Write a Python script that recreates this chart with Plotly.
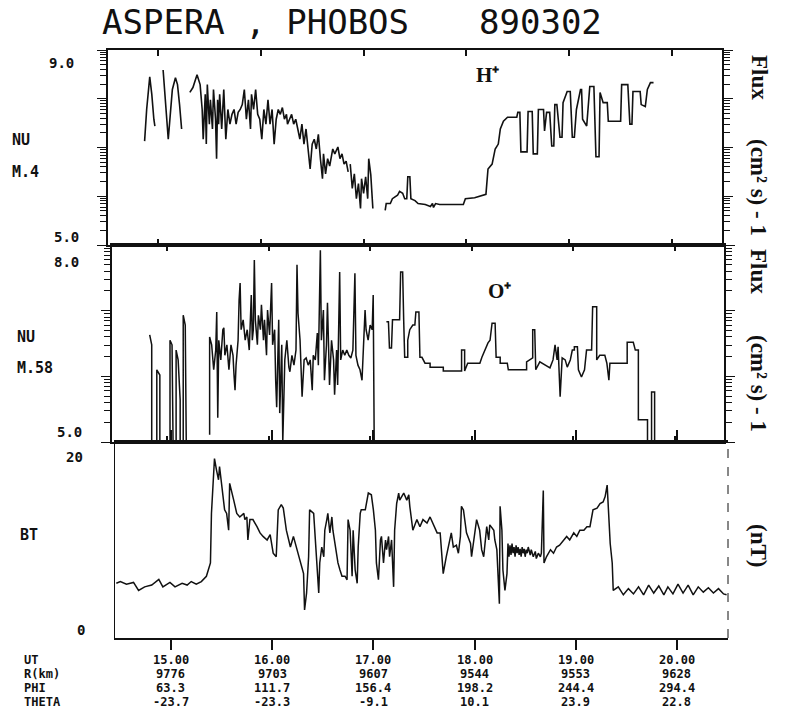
import numpy as np
import plotly.graph_objects as go

# ---------------------------------------------------------------------------
# ASPERA / PHOBOS, 1989-03-02: H+ and O+ number flux (log10) and |B|
# Time in decimal hours UT; None separates data gaps.
# ---------------------------------------------------------------------------

hp_t = [14.87, 14.89, 14.92, 14.94, 14.96, 14.97, None,
        15.05, 15.07, 15.09, 15.10, 15.12, 15.14, 15.17, 15.19, 15.21, 15.23, None,
        15.31, 15.34, 15.38, 15.41, 15.43, 15.44, 15.46, 15.47, 15.48, 15.50, 15.51,
        15.53, 15.54, 15.56, 15.57, 15.58, 15.59, 15.60, 15.62, 15.64, 15.66, 15.68,
        15.70, 15.72, 15.74, 15.76, 15.78, 15.80, 15.82, 15.84, 15.86, 15.88, 15.90,
        15.91, 15.93, 15.95, 15.97, 15.99, 16.01, 16.03, 16.05, 16.07, 16.09, 16.11,
        16.13, 16.15, 16.17, 16.19, 16.21, 16.23, 16.25, 16.26, 16.28, 16.30, 16.32,
        16.34, 16.36, 16.38, 16.40, 16.42, 16.44, 16.46, 16.48, 16.50, 16.52, 16.54,
        16.56, 16.58, 16.60, 16.61, 16.63, 16.65, 16.67, 16.70, 16.72, 16.75, 16.77,
        16.79, 16.81, 16.83, 16.85, None,
        16.87, 16.89, 16.91, 16.93, 16.95, 16.97, 16.98, 17.00, 17.02, 17.04, 17.05,
        17.07, 17.09, None,
        17.21, 17.22, 17.26, 17.28, 17.33, 17.35, 17.38, 17.40, 17.42, 17.43, 17.45,
        17.46, 17.50, 17.53, 17.60, 17.65, 17.67, 17.68, 17.70, 17.74, 17.97, 17.99,
        18.08, 18.16, 18.19, 18.21, 18.25, 18.28, 18.31, 18.33, 18.36, 18.40, 18.49,
        18.50, 18.52, 18.53, 18.59, 18.60, 18.64, 18.65, 18.69, 18.70, 18.75, 18.76,
        18.78, 18.81, 18.83, 18.85, 18.86, 18.88, 18.91, 18.93, 18.94, 18.98, 19.01,
        19.03, 19.05, 19.07, 19.11, 19.12, 19.13, 19.17, 19.20, 19.24, 19.26, 19.29,
        19.30, 19.33, 19.37, 19.38, 19.50, 19.51, 19.57, 19.59, 19.61, 19.62, 19.69,
        19.70, 19.74, 19.76, 19.79, 19.82]
hp_v = [7.13, 7.78, 8.45, 8.09, 7.58, 7.44, None,
        8.59, 8.09, 7.58, 7.17, 7.68, 8.19, 8.43, 8.29, 7.88, 7.38, None,
        8.13, 8.23, 8.49, 8.29, 7.78, 7.17, 8.09, 7.07, 8.29, 7.48, 7.98,
        7.38, 8.19, 7.58, 6.77, 7.98, 7.48, 8.09, 7.38, 8.19, 7.17, 7.78,
        7.48, 7.68, 7.78, 7.48, 7.72, 7.78, 7.88, 8.19, 7.58, 7.98, 7.38,
        8.09, 7.78, 8.19, 7.68, 7.58, 7.17, 7.78, 7.48, 7.98, 7.48, 7.78,
        7.07, 7.58, 7.78, 7.68, 7.82, 7.58, 7.68, 7.48, 7.58, 7.68, 7.48,
        7.58, 7.38, 7.17, 7.48, 7.07, 7.38, 6.97, 6.56, 7.07, 7.17, 6.97,
        7.27, 6.77, 6.36, 6.87, 6.46, 6.77, 6.62, 6.97, 6.87, 7.01, 6.77,
        6.87, 6.66, 6.72, 6.50, None,
        6.66, 6.16, 6.46, 5.95, 6.26, 5.75, 6.36, 6.06, 6.40, 5.95, 6.77,
        6.44, 5.75, None,
        5.71, 5.85, 5.85, 5.95, 6.02, 6.10, 6.06, 5.95, 5.95, 6.40, 6.40,
        5.95, 5.91, 5.85, 5.83, 5.79, 5.85, 5.77, 5.85, 5.83, 5.83, 5.95,
        5.97, 6.02, 6.04, 6.56, 6.66, 6.97, 7.07, 7.38, 7.54, 7.62, 7.62,
        7.72, 7.72, 6.91, 6.91, 7.74, 7.74, 6.87, 6.87, 7.78, 7.78, 7.34,
        7.72, 7.72, 7.03, 7.03, 7.88, 7.88, 7.21, 7.21, 7.92, 8.15, 8.15,
        7.21, 7.21, 7.78, 8.19, 8.19, 7.58, 7.44, 8.25, 8.25, 6.81, 6.81,
        8.13, 7.92, 7.92, 7.54, 7.54, 8.29, 8.29, 7.48, 7.48, 8.15, 8.15,
        7.88, 7.84, 8.19, 8.33, 8.33]

op_t = [14.83, 14.85, 14.85, 14.90, 14.90, 14.93, 14.93, 15.03, 15.03, 15.05, 15.06,
        15.09, 15.09, 15.11, 15.13, 15.13, 15.16, 15.16, 15.18, 15.19, None,
        15.42, 15.42, 15.44, 15.46, 15.48, 15.49, 15.50, 15.51, 15.53, 15.55, 15.56,
        15.57, 15.59, 15.61, 15.63, 15.65, 15.66, 15.67, 15.68, 15.70, 15.71, 15.72,
        15.73, 15.75, 15.77, 15.79, 15.81, 15.82, 15.83, 15.84, 15.85, 15.86, 15.87,
        15.89, 15.90, 15.92, 15.93, 15.95, 15.96, 15.98, 15.99, 16.01, 16.03, 16.04,
        16.06, 16.07, 16.08, 16.10, 16.11, 16.13, 16.14, 16.16, 16.18, 16.20, 16.21,
        16.23, 16.25, 16.27, 16.28, 16.29, 16.31, 16.33, 16.35, 16.37, 16.39, 16.41,
        16.43, 16.44, 16.46, 16.48, 16.49, 16.51, 16.52, 16.54, 16.55, 16.57, 16.58,
        16.60, 16.62, 16.64, 16.65, 16.67, 16.68, 16.70, 16.71, 16.73, 16.75, 16.77,
        16.79, 16.81, 16.83, 16.85, 16.86, 16.88, 16.90, 16.92, 16.93, 16.95, 16.96,
        16.98, 17.00, 17.02, 17.03, 17.04, None,
        17.16, 17.18, 17.19, 17.21, 17.22, 17.29, 17.30, 17.32, 17.33, 17.34, 17.37,
        17.37, 17.39, 17.42, 17.44, 17.45, 17.48, 17.49, 17.51, 17.54, 17.59, 17.59,
        17.72, 17.72, 17.90, 17.90, 17.93, 17.93, 17.96, 18.08, 18.10, 18.13, 18.16,
        18.18, 18.20, 18.23, 18.24, 18.28, 18.28, 18.35, 18.36, 18.54, 18.54, 18.60,
        18.60, 18.62, 18.63, 18.67, 18.72, 18.77, 18.80, 18.82, 18.84, 18.85, 18.87,
        18.89, 18.92, 18.94, 18.97, 18.99, 19.01, 19.01, 19.04, 19.05, 19.08, 19.11,
        19.13, 19.18, 19.19, 19.23, 19.23, 19.26, 19.31, 19.33, 19.35, 19.36, 19.53,
        19.53, 19.59, 19.61, 19.64, 19.64, 19.73, 19.73, 19.77, 19.77, 19.80, 19.80]
op_v = [6.63, 6.48, 5.00, 5.00, 6.10, 6.02, 5.00, 5.00, 6.55, 6.48, 5.00,
        5.00, 6.40, 6.25, 5.64, 5.00, 5.00, 6.93, 6.78, 5.00, None,
        5.11, 6.60, 6.48, 6.10, 6.40, 6.98, 5.37, 6.55, 6.25, 6.71, 6.74,
        6.32, 6.48, 6.10, 6.48, 6.32, 6.02, 5.79, 6.17, 6.55, 7.16, 7.42,
        6.71, 6.86, 6.55, 6.71, 6.40, 7.01, 7.24, 6.55, 6.71, 7.77, 6.86,
        6.48, 6.93, 6.71, 7.09, 6.55, 6.86, 6.32, 7.01, 6.63, 7.42, 6.48,
        6.71, 5.94, 5.53, 6.86, 5.44, 6.48, 5.00, 6.25, 6.55, 6.14, 6.07,
        6.32, 6.17, 6.40, 7.70, 6.96, 6.55, 5.69, 6.25, 6.28, 6.17, 6.25,
        5.79, 6.32, 6.25, 6.66, 6.17, 7.92, 6.55, 7.01, 5.94, 6.48, 7.12,
        5.87, 6.55, 6.25, 5.72, 6.40, 5.87, 7.59, 6.25, 6.40, 6.32, 6.40,
        6.32, 6.28, 6.40, 7.57, 6.32, 6.17, 6.10, 5.94, 6.32, 7.01, 6.71,
        6.55, 6.78, 6.71, 7.24, 5.00, None,
        6.83, 6.83, 6.43, 6.43, 6.86, 6.86, 7.59, 7.59, 6.86, 6.29, 6.29,
        6.55, 6.71, 6.78, 6.78, 6.98, 6.98, 6.29, 6.29, 6.20, 6.20, 6.14,
        6.14, 6.08, 6.08, 6.40, 6.40, 6.08, 6.20, 6.20, 6.29, 6.40, 6.51,
        6.55, 6.81, 6.81, 6.29, 6.29, 6.20, 6.20, 6.10, 6.10, 6.22, 6.28,
        6.71, 6.71, 6.10, 6.22, 6.17, 6.13, 6.25, 6.48, 6.25, 6.45, 5.69,
        6.28, 6.25, 6.14, 6.25, 6.40, 6.40, 6.45, 6.45, 6.10, 5.99, 6.10,
        6.40, 6.40, 7.06, 7.06, 6.25, 6.32, 6.32, 6.20, 5.94, 6.20, 6.20,
        6.52, 6.52, 6.40, 6.40, 5.34, 5.34, 5.00, 5.00, 5.76, 5.76, 5.00]

bt_t = [14.46, 14.50, 14.56, 14.63, 14.68, 14.74, 14.81, 14.88, 14.92, 14.99, 15.04,
        15.11, 15.16, 15.20, 15.25, 15.30, 15.35, 15.39, 15.40, 15.43, 15.45, 15.47,
        15.48, 15.50, 15.52, 15.53, 15.55, 15.57, 15.58, 15.60, 15.62, 15.65, 15.68,
        15.72, 15.73, 15.75, 15.76, 15.78, 15.81, 15.85, 15.88, 15.91, 15.95, 15.98,
        16.01, 16.04, 16.06, 16.09, 16.11, 16.14, 16.18, 16.21, 16.24, 16.28, 16.31,
        16.32, 16.34, 16.36, 16.37, 16.41, 16.44, 16.46, 16.47, 16.49, 16.51, 16.52,
        16.54, 16.55, 16.57, 16.59, 16.60, 16.64, 16.65, 16.67, 16.69, 16.72, 16.74,
        16.75, 16.77, 16.79, 16.80, 16.82, 16.84, 16.85, 16.87, 16.88, 16.92, 16.95,
        16.98, 17.00, 17.02, 17.03, 17.05, 17.07, 17.08, 17.10, 17.12, 17.13, 17.15,
        17.16, 17.18, 17.20, 17.21, 17.23, 17.25, 17.26, 17.30, 17.33, 17.35, 17.36,
        17.39, 17.43, 17.46, 17.49, 17.53, 17.56, 17.59, 17.63, 17.66, 17.68, 17.69,
        17.72, 17.76, 17.77, 17.79, 17.82, 17.84, 17.86, 17.87, 17.89, 17.92, 17.96,
        17.97, 17.99, 18.02, 18.05, 18.07, 18.09, 18.12, 18.14, 18.15, 18.19, 18.20,
        18.22, 18.235, 18.245, 18.252, 18.27, 18.28, 18.30, 18.32, 18.33, 18.34, 18.35,
        18.36, 18.37, 18.38, 18.39, 18.40, 18.41, 18.42, 18.43, 18.44, 18.45, 18.46,
        18.47, 18.48, 18.49, 18.50, 18.51, 18.52, 18.53, 18.55, 18.56, 18.58, 18.60,
        18.61, 18.63, 18.65, 18.66, 18.679, 18.686, 18.71, 18.75, 18.78, 18.81, 18.84,
        18.88, 18.91, 18.94, 18.98, 19.01, 19.04, 19.08, 19.11, 19.14, 19.16, 19.17,
        19.21, 19.24, 19.27, 19.29, 19.31, 19.32, 19.34, 19.36, 19.37, 19.42, 19.47,
        19.52, 19.57, 19.62, 19.67, 19.72, 19.77, 19.82, 19.87, 19.91, 19.96, 20.01,
        20.06, 20.11, 20.16, 20.21, 20.26, 20.31, 20.36, 20.41, 20.46, 20.49]
bt_v = [5.5, 5.7, 5.4, 5.6, 4.7, 5.1, 5.3, 5.95, 5.1, 5.6, 5.1,
        5.5, 5.3, 5.7, 5.4, 5.7, 6.3, 7.8, 13.4, 19.6, 18.3, 17.2,
        18.7, 16.8, 15.3, 13.8, 13.4, 11.5, 16.8, 15.7, 14.9, 13.4, 13.0,
        13.4, 12.7, 13.0, 10.4, 12.7, 12.7, 11.9, 11.2, 10.8, 10.4, 11.0,
        8.9, 8.5, 13.8, 14.4, 14.0, 11.5, 9.6, 10.8, 9.6, 7.8, 6.6,
        2.5, 4.4, 8.5, 13.8, 13.4, 8.5, 4.4, 7.8, 9.6, 8.5, 11.5,
        12.7, 13.4, 11.2, 13.0, 11.5, 8.5, 7.8, 7.0, 6.3, 6.3, 5.9,
        12.7, 11.5, 6.3, 11.5, 7.0, 5.5, 9.6, 13.4, 13.8, 13.8, 15.7,
        15.5, 13.8, 11.5, 7.8, 5.9, 10.4, 10.8, 7.8, 10.4, 9.3, 10.8,
        8.5, 10.4, 5.1, 11.5, 14.5, 15.7, 14.9, 15.7, 14.9, 15.5, 14.2,
        11.5, 12.7, 11.9, 12.7, 12.3, 13.0, 12.3, 11.2, 11.2, 8.5, 6.6,
        8.5, 10.8, 11.2, 9.6, 9.8, 8.9, 10.8, 14.2, 13.8, 11.2, 10.0,
        8.5, 10.0, 12.7, 11.5, 9.3, 8.5, 11.9, 10.4, 12.1, 11.5, 10.4,
        9.3, 5.1, 3.2, 14.2, 11.5, 7.0, 4.7, 6.6, 10.0, 8.5, 9.8,
        8.7, 10.0, 8.9, 9.6, 8.5, 9.8, 8.9, 9.6, 8.7, 9.4, 8.5,
        9.6, 8.9, 9.4, 8.5, 9.3, 8.9, 9.6, 8.7, 9.3, 8.5, 9.1,
        8.3, 8.9, 8.5, 8.9, 16.0, 7.8, 8.5, 9.3, 8.9, 9.6, 9.8,
        10.4, 10.8, 10.4, 11.2, 10.8, 11.5, 11.5, 11.9, 11.9, 13.0, 13.8,
        14.0, 14.5, 14.7, 15.3, 16.6, 14.2, 10.0, 7.8, 4.7, 5.1, 4.2,
        4.9, 4.3, 5.1, 4.2, 5.3, 4.4, 5.2, 4.2, 5.1, 4.3, 5.4,
        4.4, 5.3, 4.2, 5.1, 4.5, 5.0, 4.4, 4.9, 4.3, 4.2]

# Orbit table printed under the time axis
ut_hours = [15, 16, 17, 18, 19, 20]
ut_text = ["15.00", "16.00", "17.00", "18.00", "19.00", "20.00"]
r_km = ["9776", "9703", "9607", "9544", "9553", "9628"]
phi = ["63.3", "111.7", "156.4", "198.2", "244.4", "294.4"]
theta = ["-23.7", "-23.3", "-9.1", "10.1", "23.9", "22.8"]
table_rows = [("UT", ut_text), ("R(km)", r_km), ("PHI", phi), ("THETA", theta)]

# ---------------------------------------------------------------------------
W, H = 788, 719
PLOTTER = "DejaVu Sans Mono"
SERIF = "Liberation Serif"
INK = "#111111"


def fx(p):
    return p / W


def fy(p):
    return 1 - p / H


def log_minor(lo, hi):
    return [d + np.log10(k) for d in range(lo, hi) for k in range(2, 10)]


fig = go.Figure()
fig.add_trace(go.Scatter(x=hp_t, y=hp_v, mode="lines", xaxis="x", yaxis="y",
                         line=dict(color=INK, width=1.6), connectgaps=False))
fig.add_trace(go.Scatter(x=op_t, y=op_v, mode="lines", xaxis="x2", yaxis="y2",
                         line=dict(color=INK, width=1.5), connectgaps=False))
fig.add_trace(go.Scatter(x=bt_t, y=bt_v, mode="lines", xaxis="x3", yaxis="y3",
                         line=dict(color=INK, width=1.5), connectgaps=False))

xcommon = dict(tickmode="array", tickvals=ut_hours, showticklabels=False,
               showgrid=False, zeroline=False, showline=True, linecolor=INK,
               tickcolor=INK, fixedrange=True)
ycommon = dict(showgrid=False, zeroline=False, showline=True, linecolor=INK,
               tickcolor=INK, showticklabels=False, fixedrange=True)

fig.update_layout(
    width=W, height=H, margin=dict(l=0, r=0, t=0, b=0),
    paper_bgcolor="white", plot_bgcolor="white", showlegend=False,
    xaxis=dict(xcommon, domain=[fx(108), fx(722)], range=[14.514, 20.486],
               anchor="y", ticks="inside", ticklen=6, tickwidth=1.5,
               linewidth=2, mirror="ticks"),
    yaxis=dict(ycommon, domain=[fy(245), fy(50)], range=[5, 9], anchor="x",
               tickmode="array", tickvals=[5, 6, 7, 8, 9], ticks="outside",
               ticklen=9, tickwidth=1.3, linewidth=1.5, mirror="ticks",
               minor=dict(tickmode="array", tickvals=log_minor(5, 9),
                          ticks="outside", ticklen=6, tickwidth=1,
                          tickcolor=INK)),
    xaxis2=dict(xcommon, domain=[fx(112), fx(724)], range=[14.459, 20.483],
                anchor="y2", ticks="inside", ticklen=6, tickwidth=1.5,
                linewidth=1.5, mirror="ticks"),
    yaxis2=dict(ycommon, domain=[fy(442), fy(245)], range=[5, 8], anchor="x2",
                tickmode="array", tickvals=[5, 6, 7, 8], ticks="outside",
                ticklen=9, tickwidth=1.3, linewidth=1.5, mirror="ticks",
                minor=dict(tickmode="array", tickvals=log_minor(5, 8),
                           ticks="outside", ticklen=6, tickwidth=1,
                           tickcolor=INK)),
    xaxis3=dict(xcommon, domain=[fx(115), fx(728)], range=[14.447, 20.504],
                anchor="y3", ticks="outside", ticklen=10, tickwidth=1.5,
                linewidth=2, mirror="ticks"),
    yaxis3=dict(ycommon, domain=[fy(638), fy(442)], range=[-0.68, 21.47],
                anchor="x3", ticks="", linewidth=1.2),
)

# dashed right-hand frame of the field panel
fig.add_shape(type="line", xref="paper", yref="paper",
              x0=fx(728), x1=fx(728), y0=fy(638), y1=fy(442),
              line=dict(color=INK, width=1, dash="dash"))

ann = []


def text(x, y, s, size, family=PLOTTER, xanchor="center", angle=0,
         weight="normal", xref="paper"):
    ann.append(dict(x=fx(x) if xref == "paper" else x, y=fy(y),
                    xref=xref, yref="paper", text=s,
                    showarrow=False, xanchor=xanchor, yanchor="middle",
                    textangle=angle,
                    font=dict(family=family, size=size, color=INK,
                              weight=weight)))


# title
text(256, 22, "ASPERA , PHOBOS", 34)
text(540, 22, "890302", 34)

# left-hand channel labels and scale limits
text(10, 140, "NU", 15, xanchor="left", weight="bold")
text(10, 172, "M.4", 15, xanchor="left", weight="bold")
text(15, 337, "NU", 15, xanchor="left", weight="bold")
text(15, 368, "M.58", 15, xanchor="left", weight="bold")
text(18, 535, "BT", 15, xanchor="left", weight="bold")
text(61, 63, "9.0", 14, weight="bold")
text(66, 237, "5.0", 14, weight="bold")
text(66, 262, "8.0", 14, weight="bold")
text(69, 432, "5.0", 14, weight="bold")
text(74, 457, "20", 14, weight="bold")
text(81, 630, "0", 14, weight="bold")

# species tags
text(487, 75, "H⁺", 21, family=SERIF, weight="bold")
text(499, 291, "O⁺", 21, family=SERIF, weight="bold")

# right-hand unit labels (rotated)
for yc_flux, yc_unit in [(77, 187), (271, 383)]:
    text(759, yc_flux, "Flux", 23, family=SERIF, angle=90, weight="bold")
    text(759, yc_unit, "(cm² s) - 1", 23, family=SERIF, angle=90,
         weight="bold")
text(759, 545, "(nT)", 23, family=SERIF, angle=90, weight="bold")

# orbit table under the time axis
row_y = [659.5, 673.7, 687.9, 702.1]
for (label, vals), yy in zip(table_rows, row_y):
    text(22, yy, label, 12, xanchor="left", weight="bold")
    for h, v in zip(ut_hours, vals):
        text(h, yy, v, 12, weight="bold", xref="x3")

fig.update_layout(annotations=ann)
fig.write_html("out.html")
